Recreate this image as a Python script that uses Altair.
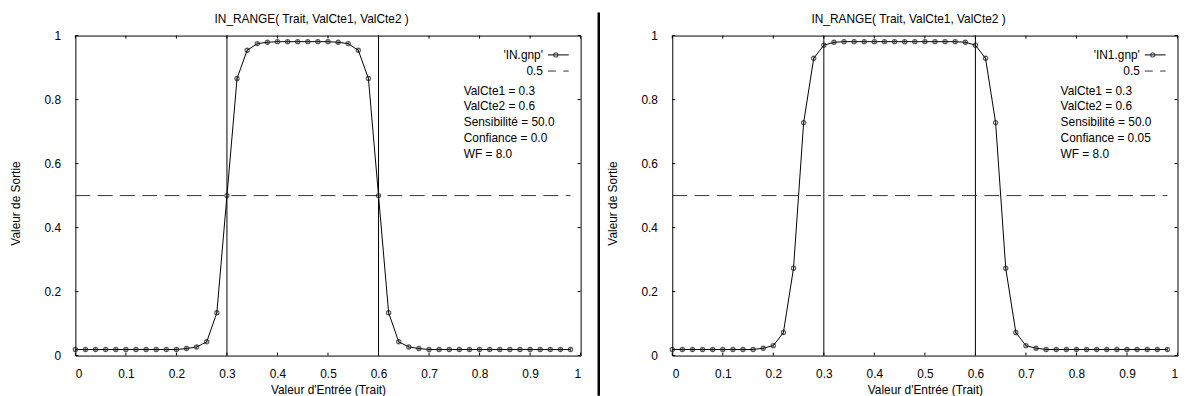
import altair as alt
import pandas as pd

# ---------------- data ----------------
x_vals = [0.00, 0.02, 0.04, 0.06, 0.08, 0.10, 0.12, 0.14, 0.16, 0.18,
          0.20, 0.22, 0.24, 0.26, 0.28, 0.30, 0.32, 0.34, 0.36, 0.38,
          0.40, 0.42, 0.44, 0.46, 0.48, 0.50, 0.52, 0.54, 0.56, 0.58,
          0.60, 0.62, 0.64, 0.66, 0.68, 0.70, 0.72, 0.74, 0.76, 0.78,
          0.80, 0.82, 0.84, 0.86, 0.88, 0.90, 0.92, 0.94, 0.96, 0.98]

# 'IN.gnp'  (Confiance = 0.0)
y_in = [0.019, 0.019, 0.019, 0.019, 0.019, 0.019, 0.019, 0.019, 0.019, 0.019,
        0.019, 0.022, 0.027, 0.043, 0.134, 0.500, 0.866, 0.954, 0.975, 0.979,
        0.981, 0.981, 0.981, 0.981, 0.981, 0.981, 0.979, 0.975, 0.954, 0.866,
        0.500, 0.134, 0.043, 0.027, 0.022, 0.019, 0.019, 0.019, 0.019, 0.019,
        0.019, 0.019, 0.019, 0.019, 0.019, 0.019, 0.019, 0.019, 0.019, 0.019]

# 'IN1.gnp' (Confiance = 0.05)
y_in1 = [0.019, 0.019, 0.019, 0.019, 0.019, 0.019, 0.019, 0.019, 0.019, 0.023,
         0.031, 0.072, 0.273, 0.728, 0.929, 0.970, 0.979, 0.981, 0.981, 0.981,
         0.981, 0.981, 0.981, 0.981, 0.981, 0.981, 0.981, 0.981, 0.981, 0.979,
         0.970, 0.929, 0.728, 0.273, 0.072, 0.031, 0.023, 0.019, 0.019, 0.019,
         0.019, 0.019, 0.019, 0.019, 0.019, 0.019, 0.019, 0.019, 0.019, 0.019]

x_ticks = [0, 0.1, 0.2, 0.3, 0.4, 0.5, 0.6, 0.7, 0.8, 0.9, 1]
y_ticks = [0, 0.2, 0.4, 0.6, 0.8, 1]
bounds_vals = [0.3, 0.6]          # ValCte1, ValCte2
threshold = [0.5]

chart_title = "IN_RANGE( Trait, ValCte1, ValCte2 )"
x_title = "Valeur d'Entrée (Trait)"
y_title = "Valeur de Sortie"

series_names = ["'IN.gnp'", "'IN1.gnp'"]
info_left = ["ValCte1 = 0.3", "ValCte2 = 0.6", "Sensibilité = 50.0",
             "Confiance = 0.0", "WF = 8.0"]
info_right = ["ValCte1 = 0.3", "ValCte2 = 0.6", "Sensibilité = 50.0",
              "Confiance = 0.05", "WF = 8.0"]

# ---------------- styling ----------------
FONT = "Liberation Sans"
W, H = 510, 323
TICK = 3
DASH = [15, 7.5]
MARK_COLOR = "#1a1a1a"
VTICK = "M0,-1L0,1"


def panel(y_values, name, info, sep_opacity):
    xs = alt.Scale(domain=[0, 1], nice=False, zero=False)
    ys = alt.Scale(domain=[0, 1], nice=False, zero=False)
    ax_x = alt.Axis(values=x_ticks, format="~g", title=x_title,
                    labelPadding=13, titlePadding=5)
    ax_y = alt.Axis(values=y_ticks, format="~g", title=y_title,
                    labelPadding=15, titleX=-60, titleY=169,
                    titleBaseline="middle", titleAngle=270)
    X = lambda f: alt.X(f, scale=xs, axis=ax_x, title=x_title)
    Y = lambda f: alt.Y(f, scale=ys, axis=ax_y, title=y_title)

    df = pd.DataFrame({"x": x_vals, "y": y_values})
    line = alt.Chart(df).mark_line(color="black", strokeWidth=1).encode(
        x=X("x:Q"), y=Y("y:Q"))
    pts = alt.Chart(df).mark_point(shape="circle", size=18, filled=False,
                                   color=MARK_COLOR, strokeWidth=1.2).encode(
        x=X("x:Q"), y=Y("y:Q"))
    pts_tick = alt.Chart(df).mark_point(shape=VTICK, size=14, filled=False,
                                        color=MARK_COLOR, strokeWidth=1).encode(
        x=X("x:Q"), y=Y("y:Q"))

    vrules = alt.Chart(pd.DataFrame({"v": bounds_vals})).mark_rule(
        color="black", strokeWidth=1).encode(x=X("v:Q"))

    hdf = pd.DataFrame({"x0": [min(x_vals)], "x1": [max(x_vals)], "y": threshold})
    hrule = alt.Chart(hdf).mark_rule(color="#333333", strokeWidth=1,
                                     strokeDash=DASH).encode(
        x=X("x0:Q"), x2="x1:Q", y=Y("y:Q"))

    xt = pd.DataFrame({"t": x_ticks})
    yt = pd.DataFrame({"t": y_ticks})
    tick_b = alt.Chart(xt).mark_rule(color="black").encode(
        x=X("t:Q"), y=alt.value(H), y2=alt.value(H - TICK))
    tick_t = alt.Chart(xt).mark_rule(color="black").encode(
        x=X("t:Q"), y=alt.value(0), y2=alt.value(TICK))
    tick_l = alt.Chart(yt).mark_rule(color="black").encode(
        y=Y("t:Q"), x=alt.value(0), x2=alt.value(TICK))
    tick_r = alt.Chart(yt).mark_rule(color="black").encode(
        y=Y("t:Q"), x=alt.value(W - TICK), x2=alt.value(W))

    layers = [line, vrules, hrule, tick_b, tick_t, tick_l, tick_r, pts, pts_tick]

    one = pd.DataFrame({"k": [0]})
    # graph title (gnuplot centres it on the canvas, slightly left of the plot centre)
    layers.append(alt.Chart(pd.DataFrame({"t": [chart_title]})).mark_text(
        align="center", baseline="middle", font=FONT, fontSize=12, color="black").encode(
        text="t:N", x=alt.value(238.5), y=alt.value(-16.5)))

    # legend (gnuplot style: label on the left, sample on the right)
    layers.append(alt.Chart(pd.DataFrame({"t": [name]})).mark_text(
        align="right", baseline="middle", font=FONT, fontSize=12, color="black").encode(
        text="t:N", x=alt.value(472), y=alt.value(19.5)))
    layers.append(alt.Chart(pd.DataFrame({"t": [str(threshold[0])]})).mark_text(
        align="right", baseline="middle", font=FONT, fontSize=12, color="black").encode(
        text="t:N", x=alt.value(472), y=alt.value(35.8)))
    layers.append(alt.Chart(one).mark_rule(color="black", strokeWidth=1).encode(
        x=alt.value(477), x2=alt.value(498), y=alt.value(19.5)))
    layers.append(alt.Chart(one).mark_point(shape="circle", size=18, filled=False,
                                            color=MARK_COLOR, strokeWidth=1.2).encode(
        x=alt.value(485), y=alt.value(19.5)))
    layers.append(alt.Chart(one).mark_rule(color="#333333", strokeWidth=1,
                                           strokeDash=DASH, strokeDashOffset=7).encode(
        x=alt.value(477), x2=alt.value(498), y=alt.value(35.8)))
    for i, txt in enumerate(info):
        layers.append(alt.Chart(pd.DataFrame({"t": [txt]})).mark_text(
            align="left", baseline="middle", font=FONT, fontSize=12, color="black").encode(
            text="t:N", x=alt.value(392), y=alt.value(55.5 + 16 * i)))

    # thick vertical separator (drawn by the left graph; kept invisible in the right one
    # so that both graphs have the same vertical extent)
    sep_x = 528.3 if sep_opacity > 0 else 0
    layers.append(alt.Chart(one).mark_rule(color="black", strokeWidth=2.5,
                                           opacity=sep_opacity).encode(
        x=alt.value(sep_x), y=alt.value(-23.3), y2=alt.value(363.5)))

    return alt.layer(*layers).properties(width=W, height=H)


left = panel(y_in, series_names[0], info_left, 1)
right = panel(y_in1, series_names[1], info_right, 0)

chart = alt.hconcat(left, right, spacing=4.5).properties(
    padding={"left": 1, "top": 0, "right": 0, "bottom": 0}
).configure_view(stroke="black", strokeWidth=1).configure_axis(
    labelFont=FONT, titleFont=FONT, labelFontSize=12, titleFontSize=12,
    titleFontWeight="normal", labelColor="black", titleColor="black",
    grid=False, ticks=False, domain=False,
)

chart.save("out.html", embed_options={"renderer": "svg", "actions": False})
